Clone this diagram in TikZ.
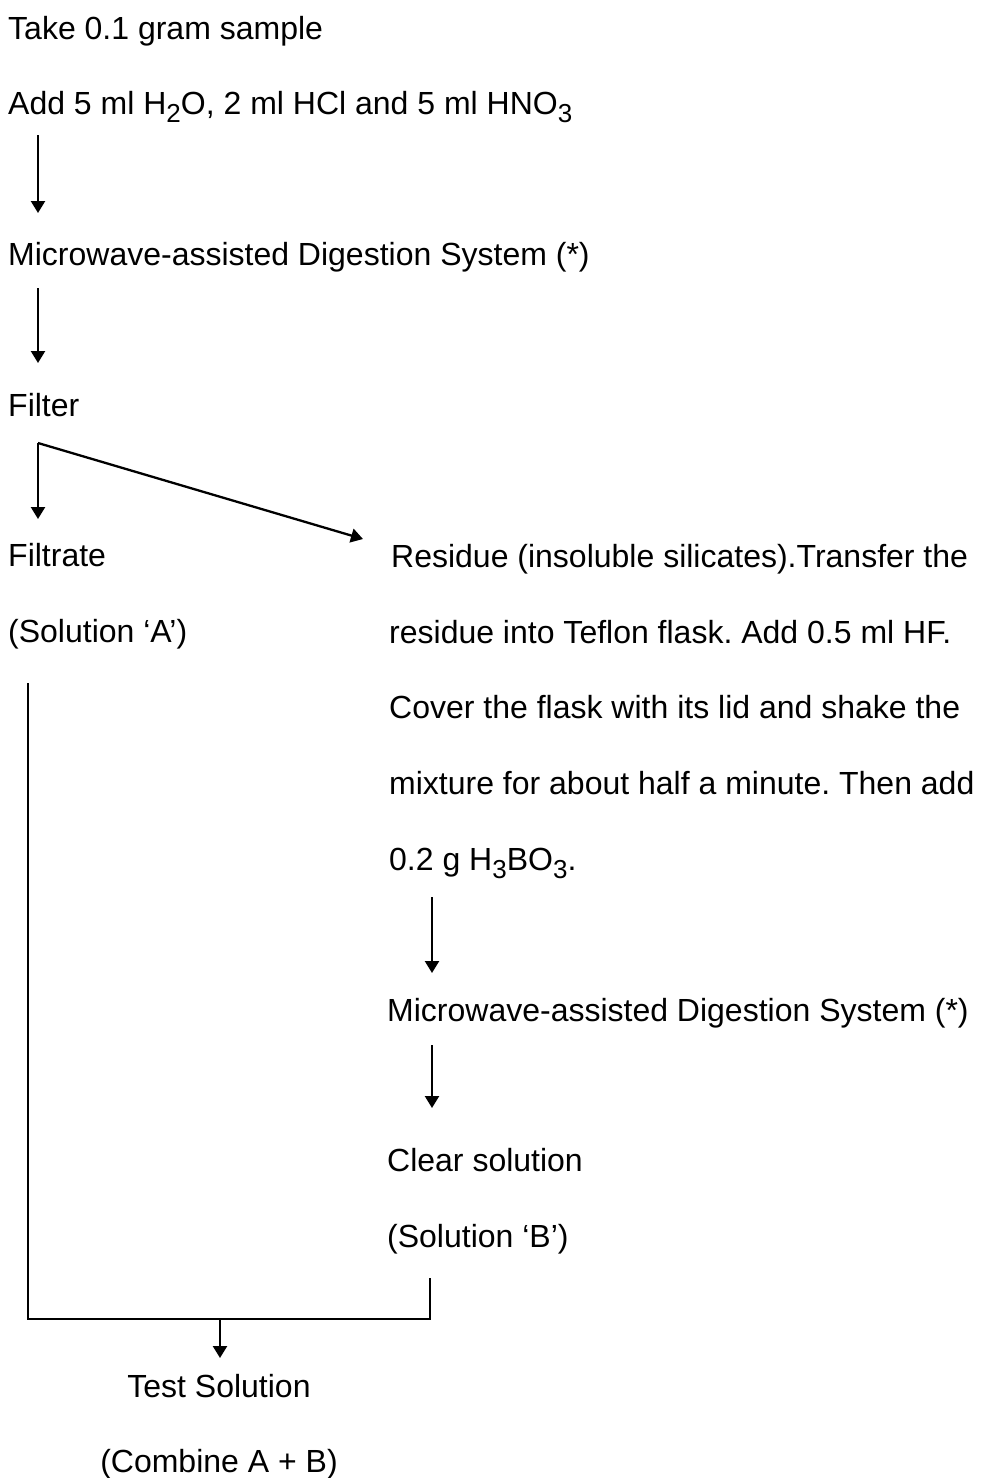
\documentclass[tikz,border=0pt]{standalone}
\usepackage{fontspec}
\setmainfont{Liberation Sans}
\usetikzlibrary{arrows.meta}
\frenchspacing
\newcommand{\chsub}[1]{\raisebox{-0.28em}{\fontsize{26}{30}\selectfont #1}}
\begin{document}
\begin{tikzpicture}[x=1pt,y=-1pt,
  txt/.style={inner sep=0pt,anchor=base west,font=\fontsize{32}{38}\selectfont},
  ctxt/.style={inner sep=0pt,anchor=base,font=\fontsize{32}{38}\selectfont},
  conn/.style={line width=2.3pt},
  arr/.style={conn,-{Triangle[width=14pt,length=12pt]}}]
\useasboundingbox (0,0) rectangle (983,1478);
\fill[white] (0,0) rectangle (983,1478);
% left column
\node[txt] (take) at (8,39) {Take 0.1 gram sample};
\node[txt] (add) at (8,114) {Add 5 ml H\chsub{2}O, 2 ml HCl and 5 ml HNO\chsub{3}};
\node[txt] (mw1) at (8,265) {Microwave-assisted Digestion System (*)};
\node[txt] (filter) at (8,416) {Filter};
\node[txt] (filtrate) at (8,566) {Filtrate};
\node[txt] (solA) at (8,642) {(Solution ‘A’)};
% right column
\node[txt] (res1) at (391,567) {Residue (insoluble silicates).Transfer the};
\node[txt] (res2) at (389,643) {residue into Teflon flask. Add 0.5 ml HF.};
\node[txt] (res3) at (389,718) {Cover the flask with its lid and shake the};
\node[txt] (res4) at (389,794) {mixture for about half a minute. Then add};
\node[txt] (res5) at (389,870) {0.2 g H\chsub{3}BO\chsub{3}.};
\node[txt] (mw2) at (387,1021) {Microwave-assisted Digestion System (*)};
\node[txt] (clear) at (387,1171) {Clear solution};
\node[txt] (solB) at (387,1247) {(Solution ‘B’)};
% bottom
\node[ctxt] (test) at (219,1397) {Test Solution};
\node[ctxt] (comb) at (219,1472) {(Combine A + B)};
% connector coordinates
\coordinate (a1s) at (38,135);
\coordinate (a1e) at (38,213);
\coordinate (a2s) at (38,288);
\coordinate (a2e) at (38,363);
\coordinate (fk) at (38,443);
\coordinate (fkA) at (38,519);
\coordinate (fkB) at (363,539);
\coordinate (a3s) at (432,897);
\coordinate (a3e) at (432,973);
\coordinate (a4s) at (432,1045);
\coordinate (a4e) at (432,1108);
\coordinate (lt) at (28,683);
\coordinate (lb) at (28,1319);
\coordinate (rt) at (430,1278);
\coordinate (rb) at (430,1319);
\coordinate (mid) at (220,1319);
\coordinate (mide) at (220,1358);
% connectors
\draw[arr] (a1s) -- (a1e);
\draw[arr] (a2s) -- (a2e);
\draw[arr] (fk) -- (fkA);
\draw[arr] (fk) -- (fkB);
\draw[arr] (a3s) -- (a3e);
\draw[arr] (a4s) -- (a4e);
\draw[conn] (lt) -- (lb) -- (rb) -- (rt);
\draw[arr] (mid) -- (mide);
\end{tikzpicture}
\end{document}
